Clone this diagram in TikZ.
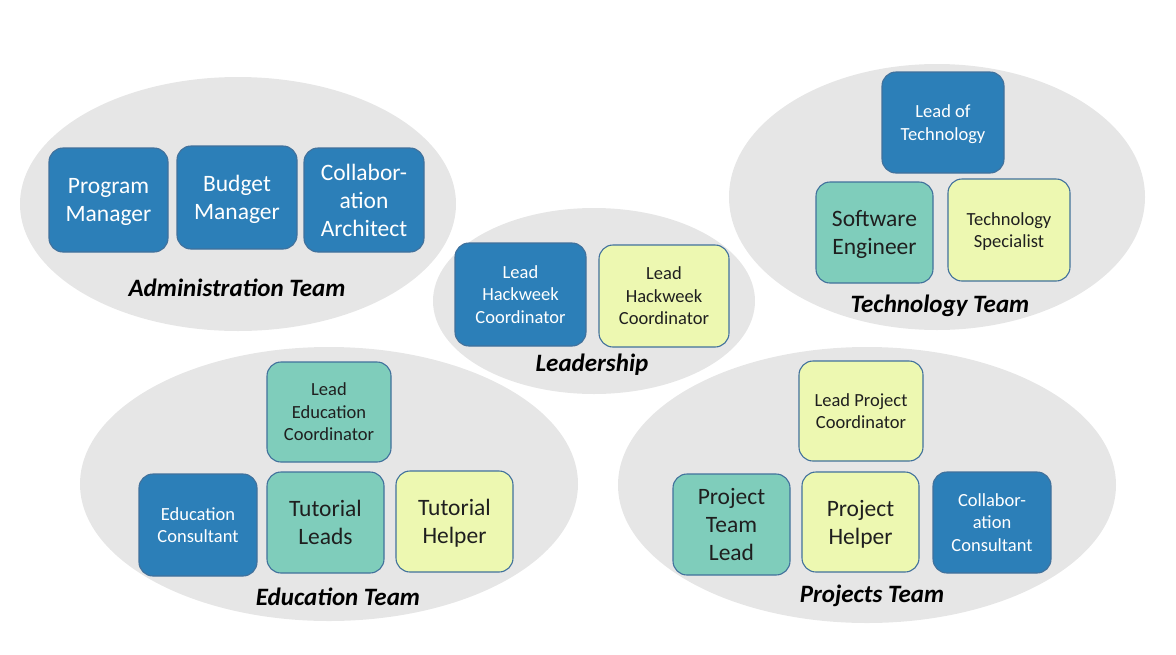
\documentclass[tikz,border=0pt]{standalone}
\usepackage{fontspec}
\setmainfont{Carlito}
\usepackage{tikz}
\usepackage{xcolor}

\definecolor{teamgray}{HTML}{E6E6E6}
\definecolor{roleblue}{HTML}{2C7FB8}
\definecolor{roleteal}{HTML}{7FCDBB}
\definecolor{roleyellow}{HTML}{EDF8B1}
\definecolor{roleedge}{HTML}{41719C}

\begin{document}
\begin{tikzpicture}[x=1pt, y=-1pt,
  role/.style={draw=roleedge, line width=1.1pt, rounded corners=14pt, align=center,
    inner sep=0pt, minimum width=118pt, minimum height=101pt},
  blu/.style={role, fill=roleblue, text=white},
  tea/.style={role, fill=roleteal, text=black!88},
  yel/.style={role, fill=roleyellow, text=black!88},
  % negative depth pushes the lines down a little, as in the slide
  bigtxt/.style={font=\fontsize{23.5}{28}\selectfont, text depth=-2.5pt},
  smalltxt/.style={font=\fontsize{18.5}{22.5}\selectfont, text depth=-4pt},
  teamname/.style={font=\fontsize{25}{29}\selectfont\bfseries\itshape}]
\useasboundingbox (0,0) rectangle (1176,654);

% team ellipses (drawn first, boxes sit on top)
\foreach \cx/\cy/\rx/\ry in {238/204/218/127, 594/301/161/93, 937/197/208/133,
                             329/484/249/137, 867/485/249/138} {
  \fill[teamgray] (\cx,\cy) ellipse [x radius=\rx pt, y radius=\ry pt];
}

% Administration Team
\node[blu, bigtxt, minimum width=119pt, minimum height=104pt] (progman) at (108.5,200) {Program\\Manager};
\node[blu, bigtxt, minimum width=120pt, minimum height=103pt] (budman) at (237,197.5) {Budget\\Manager};
\node[blu, bigtxt, minimum width=120pt, minimum height=104pt] (collarch) at (364,200) {Collabor-\\ation\\Architect};
\node[teamname] (admin) at (237,288) {Administration Team};

% Leadership
\node[blu, smalltxt, minimum width=131pt, minimum height=103pt] (leadhackA) at (520.5,294.5) {Lead\\Hackweek\\Coordinator};
\node[yel, smalltxt, minimum width=130pt, minimum height=102pt] (leadhackB) at (664,296) {Lead\\Hackweek\\Coordinator};
\node[teamname] (leadership) at (592,364.5) {Leadership};

% Technology Team
\node[blu, smalltxt, minimum width=122pt] (leadtech) at (943,122.5) {Lead of\\Technology};
\node[tea, bigtxt, minimum width=117pt] (softeng) at (874.5,232.5) {Software\\Engineer};
\node[yel, smalltxt, minimum width=122pt, minimum height=102pt] (techspec) at (1009,230) {Technology\\Specialist};
\node[teamname] (tech) at (940,305.5) {Technology Team};

% Education Team
\node[tea, smalltxt, minimum width=124pt, minimum height=100pt] (leadedu) at (329,412) {Lead\\Education\\Coordinator};
\node[blu, smalltxt, minimum width=118pt, minimum height=102pt] (educons) at (198,525) {Education\\Consultant};
\node[tea, bigtxt, minimum width=117pt] (tutleads) at (325.5,522.5) {Tutorial\\Leads};
\node[yel, bigtxt, minimum width=117pt] (tuthelp) at (454.5,521.5) {Tutorial\\Helper};
\node[teamname] (edu) at (338,597) {Education Team};

% Projects Team
\node[yel, smalltxt, minimum width=124pt, minimum height=100pt] (leadproj) at (861,411) {Lead Project\\Coordinator};
\node[tea, bigtxt, minimum width=117pt] (projlead) at (731.5,524.5) {Project\\Team\\Lead};
\node[yel, bigtxt, minimum width=117pt, minimum height=100pt] (projhelp) at (860.5,522) {Project\\Helper};
\node[blu, smalltxt, minimum width=118pt] (collcons) at (992,522.5) {Collabor-\\ation\\Consultant};
\node[teamname] (proj) at (872,596) {Projects Team};
\end{tikzpicture}
\end{document}
